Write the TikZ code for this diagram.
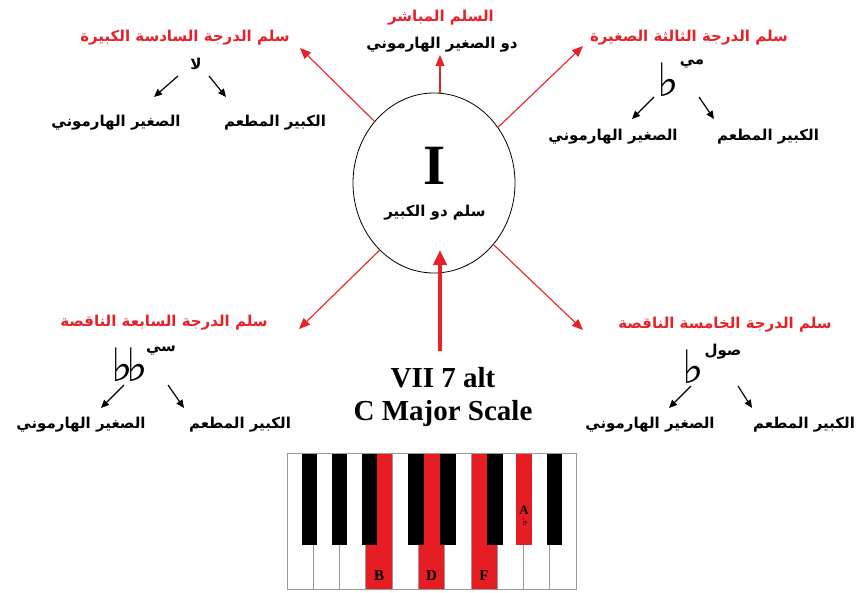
\documentclass[tikz,border=0pt]{standalone}
\usepackage{fontspec}
\usetikzlibrary{arrows.meta,shapes.geometric}
\TeXXeTstate=1
\setmainfont{Liberation Serif}
\newfontfamily\arabicfont[Script=Arabic]{DejaVu Sans}
\newfontfamily\symfont{DejaVu Sans}
\definecolor{myred}{RGB}{232,32,40}
\definecolor{keyred}{RGB}{230,30,36}
\tikzset{
  titletxt/.style={text=myred, font=\arabicfont\bfseries\fontsize{15}{17}\selectfont, inner sep=1pt},
  lbltxt/.style={text=black, font=\arabicfont\bfseries\fontsize{15}{17}\selectfont, inner sep=1pt},
  notetxt/.style={text=black, font=\arabicfont\bfseries\fontsize{15}{17}\selectfont, inner sep=1pt},
  flatsym/.style={font=\symfont\fontsize{46}{46}\selectfont, inner sep=0pt},
  redarr/.style={draw=myred, line width=1.1pt, -{Triangle[length=11pt,width=9pt]}},
  blkarr/.style={draw=black, line width=1.2pt, -{Triangle[length=8pt,width=7pt]}},
  whitekey/.style={draw=gray!80, line width=0.7pt, fill=white},
  redkey/.style={draw=gray!80, line width=0.7pt, fill=keyred},
  blackkey/.style={fill=black, draw=none},
  keylbl/.style={font=\bfseries\fontsize{15}{15}\selectfont, inner sep=0pt}
}
\begin{document}
\begin{tikzpicture}[x=1pt,y=-1pt]
\useasboundingbox (0,0) rectangle (858,593);
\fill[white] (0,0) rectangle (858,593);

% central circle
\node[ellipse, draw, line width=0.8pt, minimum width=162pt, minimum height=180pt] (c) at (434,183) {};
\node[font=\bfseries\fontsize{57}{57}\selectfont, inner sep=0pt] (bigI) at (435,166) {I};
\node[lbltxt] (cname) at (435,213) {\beginR سلم دو الكبير\endR};

% top centre
\node[titletxt] (tcT) at (441,18) {\beginR السلم المباشر\endR};
\node[lbltxt] (tcS) at (442,45) {\beginR دو الصغير الهارموني\endR};
\coordinate (tcTip) at (440,55);

% top left
\node[titletxt] (tlT) at (185,38) {\beginR سلم الدرجة السادسة الكبيرة\endR};
\node[notetxt] (tlN) at (196,64) {\beginR لا\endR};
\node[lbltxt] (tlH) at (116,123) {\beginR الصغير الهارموني\endR};
\node[lbltxt] (tlM) at (275,123) {\beginR الكبير المطعم\endR};
\coordinate (tlTip) at (300,48);
\coordinate (tlA1) at (178,76); \coordinate (tlA2) at (154,97);
\coordinate (tlB1) at (209,76); \coordinate (tlB2) at (226,97);

% top right
\node[titletxt] (trT) at (689,38) {\beginR سلم الدرجة الثالثة الصغيرة\endR};
\node[notetxt] (trN) at (692,64) {\beginR مي\endR};
\node[flatsym] (trF) at (668,80) {♭};
\node[lbltxt] (trH) at (613,137) {\beginR الصغير الهارموني\endR};
\node[lbltxt] (trM) at (768,137) {\beginR الكبير المطعم\endR};
\coordinate (trTip) at (583,46);
\coordinate (trA1) at (654,97); \coordinate (trA2) at (632,119);
\coordinate (trB1) at (699,97); \coordinate (trB2) at (714,119);

% bottom left
\node[titletxt] (blT) at (164,323) {\beginR سلم الدرجة السابعة الناقصة\endR};
\node[notetxt] (blN) at (161,351) {\beginR سي\endR};
\node[flatsym] (blF) at (130,365) {♭\kern-7pt♭};
\node[lbltxt] (blH) at (81,425) {\beginR الصغير الهارموني\endR};
\node[lbltxt] (blM) at (240,425) {\beginR الكبير المطعم\endR};
\coordinate (blTip) at (299,329);
\coordinate (blA1) at (124,385); \coordinate (blA2) at (101,408);
\coordinate (blB1) at (168,385); \coordinate (blB2) at (184,408);

% bottom right
\node[titletxt] (brT) at (725,325) {\beginR سلم الدرجة الخامسة الناقصة\endR};
\node[notetxt] (brN) at (723,352) {\beginR صول\endR};
\node[flatsym] (brF) at (693,367) {♭};
\node[lbltxt] (brH) at (650,425) {\beginR الصغير الهارموني\endR};
\node[lbltxt] (brM) at (804,425) {\beginR الكبير المطعم\endR};
\coordinate (brTip) at (583,330);
\coordinate (brA1) at (691,386); \coordinate (brA2) at (669,408);
\coordinate (brB1) at (738,386); \coordinate (brB2) at (752,408);

% red arrows from the circle
\draw[redarr] (tcTip |- c.north) -- (tcTip);
\draw[redarr] (c.134) -- (tlTip);
\draw[redarr] (c.41) -- (trTip);
\draw[redarr] (c.231) -- (blTip);
\draw[redarr] (c.314) -- (brTip);

% black arrows
\foreach \p in {tl,tr,bl,br}{
  \draw[blkarr] (\p A1) -- (\p A2);
  \draw[blkarr] (\p B1) -- (\p B2);
}

% VII 7 alt
\node[align=center, font=\bfseries\fontsize{29}{33}\selectfont, inner sep=0pt] (vii) at (443,397) {VII 7 alt\\C Major Scale};
\coordinate (cTip) at (440,250);
\draw[myred, line width=4.5pt, -{Triangle[length=15pt,width=13pt]}] (vii.north -| cTip) ++(0,-16) -- (cTip);

% piano
\foreach \i in {0,...,10}{
  \draw[whitekey] ({287+\i*26.27},453) rectangle ++(26.27,136);
}
\foreach \i in {3,5,7}{
  \draw[redkey] ({287+\i*26.27},453) rectangle ++(26.27,136);
}
\foreach \xx in {301.7,331.7,361.7,408.3,440,487.3,546.7}{
  \fill[blackkey] (\xx,453) rectangle ++(15.6,92);
}
\fill[keyred] (516,453) rectangle ++(15.6,92);
\draw[gray!80, line width=0.7pt] (287,453) -- (576,453);
\node[keylbl] (kB) at (379,576) {B};
\node[keylbl] (kD) at (431.5,576) {D};
\node[keylbl] (kF) at (484,576) {F};
\node[keylbl, font=\bfseries\fontsize{13}{13}\selectfont] (kA) at (524,510) {A};
\node[font=\symfont\fontsize{11}{11}\selectfont, inner sep=0pt] (kAf) at (525,521) {♭};
\end{tikzpicture}
\end{document}
